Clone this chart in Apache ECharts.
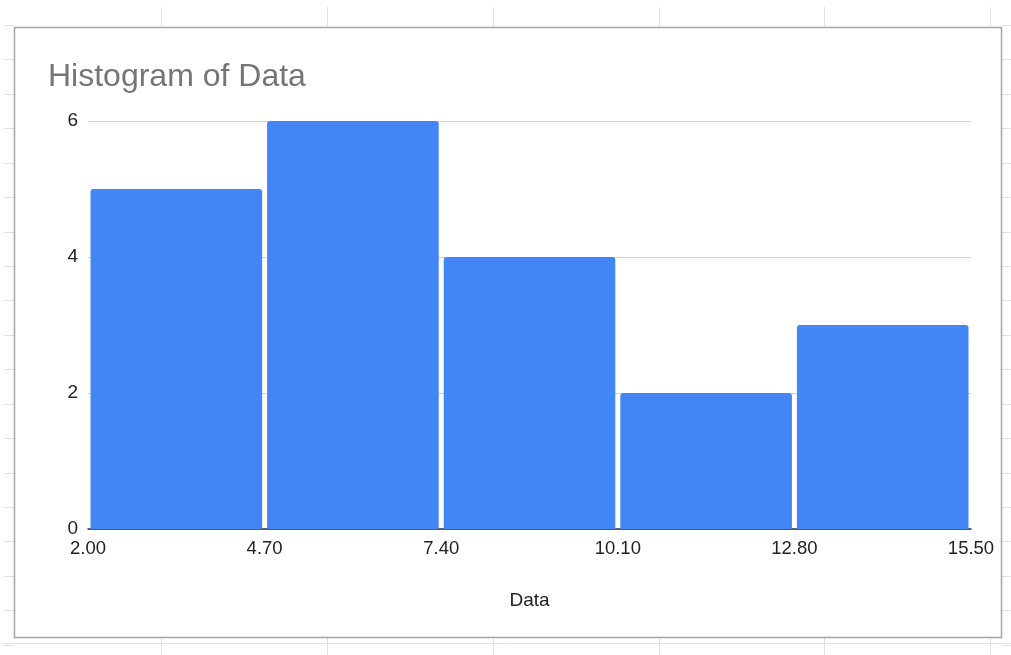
<!DOCTYPE html>
<html>
<head>
<meta charset="utf-8">
<script src="https://cdn.jsdelivr.net/npm/echarts@6/dist/echarts.min.js"></script>
<style>
html,body{margin:0;padding:0;background:#fff;}
#c{width:1011px;height:655px;}
</style>
</head>
<body>
<div id="c"></div>
<script>
// Bin edges (tick labels) and counts per bin
const binEdges = ['2.00', '4.70', '7.40', '10.10', '12.80', '15.50'];
const binCounts = [5, 6, 4, 2, 3];
const yTicks = [0, 2, 4, 6];

const chart = echarts.init(document.getElementById('c'));

// spreadsheet background decoration
const deco = [];
const sheetCols = [161, 327, 493, 659, 824, 990];
sheetCols.forEach(x => {
  deco.push({type:'line', shape:{x1:x+0.5,y1:7,x2:x+0.5,y2:27}, style:{stroke:'#e2e2e2', lineWidth:1}, z:-10});
  deco.push({type:'line', shape:{x1:x+0.5,y1:638,x2:x+0.5,y2:655}, style:{stroke:'#e2e2e2', lineWidth:1}, z:-10});
});
for (let k = 0; k <= 18; k++) {
  const y = Math.round(25 + k * 34.43) + 0.5;
  deco.push({type:'line', shape:{x1:4,y1:y,x2:14,y2:y}, style:{stroke:'#e2e2e2', lineWidth:1}, z:-10});
  deco.push({type:'line', shape:{x1:1002,y1:y,x2:1011,y2:y}, style:{stroke:'#e2e2e2', lineWidth:1}, z:-10});
}
deco.push({type:'line', shape:{x1:4,y1:643.5,x2:1011,y2:643.5}, style:{stroke:'#e2e2e2', lineWidth:1}, z:-10});
deco.push({type:'rect', shape:{x:14.5,y:27.5,width:987,height:610}, style:{fill:'#fff', stroke:'#a6a6a6', lineWidth:1.5}, z:-5});

const FONT = 'Arial, "Liberation Sans", sans-serif';

chart.setOption({
  animation: false,
  graphic: deco,
  title: {
    text: 'Histogram of Data',
    left: 43, top: 56,
    textStyle: {fontFamily: FONT, fontSize: 32, fontWeight: 'normal', color: '#757575'}
  },
  grid: {left: 88, right: 40, top: 121, bottom: 126},
  xAxis: {
    type: 'value', min: 0, max: binCounts.length, interval: 1,
    name: 'Data', nameLocation: 'middle', nameGap: 62,
    nameTextStyle: {fontFamily: FONT, fontSize: 19, color: '#222'},
    axisLine: {show: true, onZero: false, lineStyle: {color: '#333', width: 1.5}},
    axisTick: {show: false},
    splitLine: {show: false},
    axisLabel: {
      fontFamily: FONT, fontSize: 18.5, color: '#222', margin: 10,
      formatter: v => binEdges[Math.round(v)]
    }
  },
  yAxis: {
    type: 'value', min: 0, max: 6, interval: 2,
    axisLine: {show: false}, axisTick: {show: false},
    splitLine: {lineStyle: {color: '#d0d0d0', width: 1}},
    axisLabel: {fontFamily: FONT, fontSize: 19, color: '#222', margin: 10,
      formatter: v => yTicks.indexOf(v) >= 0 ? String(v) : ''}
  },
  series: [{
    type: 'custom',
    data: binCounts.map((c, i) => [i, c]),
    renderItem: (params, api) => {
      const i = api.value(0), c = api.value(1);
      const p0 = api.coord([i, c]);
      const p1 = api.coord([i + 1, 0]);
      const inset = 2.5;
      return {
        type: 'rect',
        shape: {x: p0[0] + inset, y: p0[1], width: p1[0] - p0[0] - 2 * inset, height: p1[1] - p0[1], r: [3, 3, 0, 0]},
        style: {fill: '#4285f4'}
      };
    },
    z: 1
  }]
});
</script>
</body>
</html>
